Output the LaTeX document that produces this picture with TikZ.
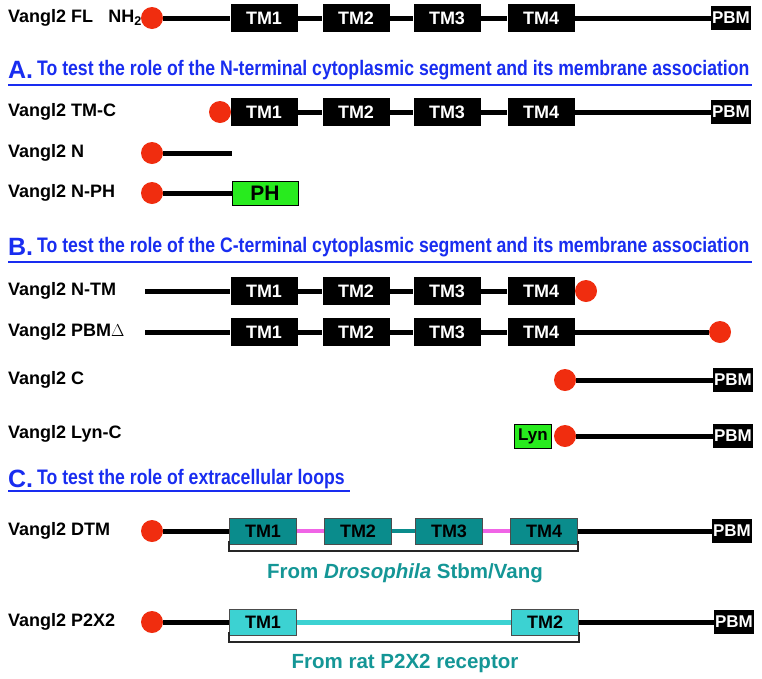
\documentclass[tikz,border=0pt]{standalone}
\usepackage{fontspec}
\setmainfont{Liberation Sans}

\definecolor{dotred}{RGB}{240,45,15}
\definecolor{headblue}{RGB}{25,45,240}
\definecolor{phgreen}{RGB}{40,235,30}
\definecolor{dteal}{RGB}{10,140,140}
\definecolor{pteal}{RGB}{60,210,210}
\definecolor{lpink}{RGB}{240,100,230}
\definecolor{fromteal}{RGB}{20,150,150}

\tikzset{
  lbl/.style={anchor=west, inner sep=0, font=\bfseries\fontsize{18}{20}\selectfont},
  tm/.style={rectangle, fill=black, text=white, minimum width=67pt, minimum height=28pt, inner sep=0, font=\bfseries\fontsize{18}{20}\selectfont},
  dtm/.style={rectangle, draw=black!70, line width=1pt, fill=dteal, text=black, minimum width=67pt, minimum height=26pt, inner sep=0, font=\bfseries\fontsize{18}{20}\selectfont},
  ptm/.style={dtm, fill=pteal},
  pbm/.style={rectangle, fill=black, text=white, minimum width=40pt, minimum height=24pt, inner sep=0, font=\bfseries\fontsize{17}{19}\selectfont},
  gbox/.style={rectangle, draw=black, line width=1pt, fill=phgreen, inner sep=0, minimum height=24pt},
  dot/.style={circle, fill=dotred, minimum size=22pt, inner sep=0},
  bb/.style={line width=5pt},
  headl/.style={anchor=west, inner sep=0, text=headblue, font=\bfseries\fontsize{25}{27}\selectfont},
  headt/.style={anchor=west, inner sep=0, text=headblue, font=\bfseries\fontsize{21}{23}\selectfont, xscale=0.84, transform shape},
  hline/.style={headblue, line width=2pt},
  brk/.style={line width=2pt, black!85},
  from/.style={text=fromteal, inner sep=0, font=\bfseries\fontsize{20.5}{23}\selectfont}
}

\begin{document}
\begin{tikzpicture}[x=1pt, y=-1pt]
\useasboundingbox (0,0) rectangle (762,678);

% full length
\node[lbl] (fl) at (8,18) {Vangl2 FL};
\node[anchor=east, inner sep=0, font=\bfseries\fontsize{18}{20}\selectfont] (fl-nh) at (142,18) {NH\textsubscript{2}};
\node[dot] (fl-dot) at (152,18) {};
\node[tm] (fl-tm1) at (264,18) {TM1};
\node[tm] (fl-tm2) at (356,18) {TM2};
\node[tm] (fl-tm3) at (447,18) {TM3};
\node[tm] (fl-tm4) at (541,18) {TM4};
\node[pbm] (fl-pbm) at (731,18) {PBM};
\draw[bb] (fl-dot) -- (fl-tm1);
\draw[bb] (fl-tm1) -- (fl-tm2);
\draw[bb] (fl-tm2) -- (fl-tm3);
\draw[bb] (fl-tm3) -- (fl-tm4);
\draw[bb] (fl-tm4) -- (fl-pbm);

% A
\node[headl] (ha) at (8,70) {A.};
\node[headt] (hat) at (37,70) {To test the role of the N-terminal cytoplasmic segment and its membrane association};
\draw[hline] (8,85) -- (752,85);

\node[lbl] (tmc) at (8,112) {Vangl2 TM-C};
\node[tm] (tmc-tm1) at (264,112) {TM1};
\node[tm] (tmc-tm2) at (356,112) {TM2};
\node[tm] (tmc-tm3) at (447,112) {TM3};
\node[tm] (tmc-tm4) at (541,112) {TM4};
\node[pbm] (tmc-pbm) at (731,112) {PBM};
\node[dot] (tmc-dot) at (220,112) {};
\draw[bb] (tmc-tm1) -- (tmc-tm2);
\draw[bb] (tmc-tm2) -- (tmc-tm3);
\draw[bb] (tmc-tm3) -- (tmc-tm4);
\draw[bb] (tmc-tm4) -- (tmc-pbm);

\node[lbl] (n) at (8,153) {Vangl2 N};
\node[dot] (n-dot) at (152,153) {};
\coordinate (n-end) at (232,153);
\draw[bb] (n-dot) -- (n-end);

\node[lbl] (nph) at (8,193) {Vangl2 N-PH};
\node[dot] (nph-dot) at (152,193) {};
\node[gbox, minimum width=66pt, font=\bfseries\fontsize{21}{23}\selectfont] (nph-ph) at (265,193) {PH};
\draw[bb] (nph-dot) -- (nph-ph);

% B
\node[headl] (hb) at (8,247) {B.};
\node[headt] (hbt) at (37,247) {To test the role of the C-terminal cytoplasmic segment and its membrane association};
\draw[hline] (8,262) -- (752,262);

\node[lbl] (ntm) at (8,291) {Vangl2 N-TM};
\coordinate (ntm-start) at (145,291);
\node[tm] (ntm-tm1) at (264,291) {TM1};
\node[tm] (ntm-tm2) at (356,291) {TM2};
\node[tm] (ntm-tm3) at (447,291) {TM3};
\node[tm] (ntm-tm4) at (541,291) {TM4};
\node[dot] (ntm-dot) at (586,291) {};
\draw[bb] (ntm-start) -- (ntm-tm1);
\draw[bb] (ntm-tm1) -- (ntm-tm2);
\draw[bb] (ntm-tm2) -- (ntm-tm3);
\draw[bb] (ntm-tm3) -- (ntm-tm4);

\node[lbl] (pd) at (8,332) {Vangl2 PBM$\Delta$};
\coordinate (pd-start) at (145,332);
\node[tm] (pd-tm1) at (264,332) {TM1};
\node[tm] (pd-tm2) at (356,332) {TM2};
\node[tm] (pd-tm3) at (447,332) {TM3};
\node[tm] (pd-tm4) at (541,332) {TM4};
\node[dot] (pd-dot) at (720,332) {};
\draw[bb] (pd-start) -- (pd-tm1);
\draw[bb] (pd-tm1) -- (pd-tm2);
\draw[bb] (pd-tm2) -- (pd-tm3);
\draw[bb] (pd-tm3) -- (pd-tm4);
\draw[bb] (pd-tm4) -- (pd-dot);

\node[lbl] (c) at (8,380) {Vangl2 C};
\node[dot] (c-dot) at (565,380) {};
\node[pbm] (c-pbm) at (733,380) {PBM};
\draw[bb] (c-dot) -- (c-pbm);

\node[lbl] (lync) at (8,434) {Vangl2 Lyn-C};
\node[gbox, minimum width=37pt, font=\bfseries\fontsize{17}{19}\selectfont] (lync-lyn) at (533,436) {Lyn};
\node[dot] (lync-dot) at (565,436) {};
\node[pbm] (lync-pbm) at (733,436) {PBM};
\draw[bb] (lync-dot) -- (lync-pbm);

% C
\node[headl] (hc) at (8,479) {C.};
\node[headt] (hct) at (37,479) {To test the role of extracellular loops};
\draw[hline] (8,491) -- (350,491);

\node[lbl] (dt) at (8,531) {Vangl2 DTM};
\node[dot] (dt-dot) at (152,531) {};
\node[dtm] (dt-tm1) at (263,531) {TM1};
\node[dtm] (dt-tm2) at (358,531) {TM2};
\node[dtm] (dt-tm3) at (449,531) {TM3};
\node[dtm] (dt-tm4) at (544,531) {TM4};
\node[pbm] (dt-pbm) at (732,531) {PBM};
\draw[bb] (dt-dot) -- (dt-tm1);
\draw[lpink, line width=4pt] (dt-tm1) -- (dt-tm2);
\draw[dteal, line width=4pt] (dt-tm2) -- (dt-tm3);
\draw[lpink, line width=4pt] (dt-tm3) -- (dt-tm4);
\draw[bb] (dt-tm4) -- (dt-pbm);
\draw[brk] ([yshift=4pt]dt-tm1.south west) -- ++(0,10) -| ([yshift=4pt]dt-tm4.south east);
\node[from] (dt-from) at (405,573) {From \textit{Drosophila} Stbm/Vang};

\node[lbl] (px) at (8,622) {Vangl2 P2X2};
\node[dot] (px-dot) at (152,622) {};
\node[ptm] (px-tm1) at (263,622) {TM1};
\node[ptm] (px-tm2) at (545,622) {TM2};
\node[pbm] (px-pbm) at (734,622) {PBM};
\draw[bb] (px-dot) -- (px-tm1);
\draw[pteal, line width=5pt] (px-tm1) -- (px-tm2);
\draw[bb] (px-tm2) -- (px-pbm);
\draw[brk] ([yshift=4pt]px-tm1.south west) -- ++(0,10) -| ([yshift=4pt]px-tm2.south east);
\node[from] (px-from) at (405,663) {From rat P2X2 receptor};
\end{tikzpicture}
\end{document}
